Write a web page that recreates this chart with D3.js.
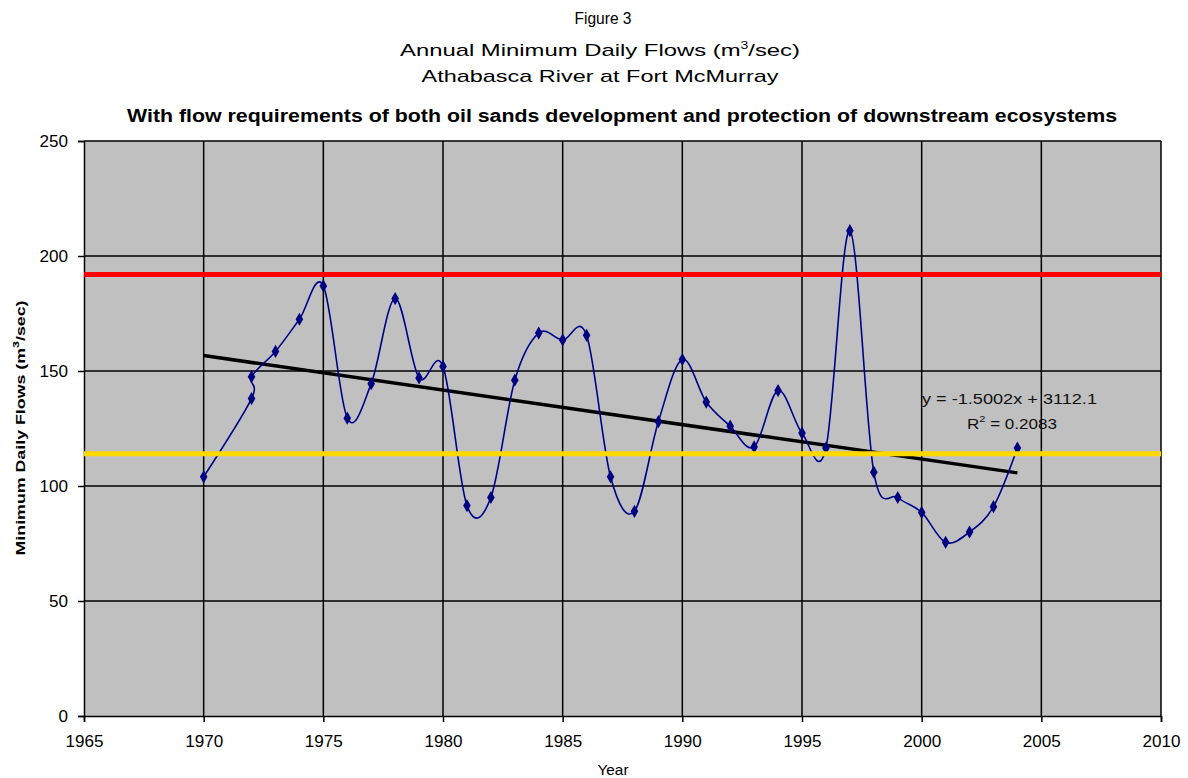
<!DOCTYPE html>
<html>
<head>
<meta charset="utf-8">
<script src="https://cdn.jsdelivr.net/npm/d3@7"></script>
<style>
  body { margin: 0; background: #fff; }
  svg { display: block; font-family: "Liberation Sans", Arial, sans-serif; }
</style>
</head>
<body>
<svg id="chart" width="1188" height="778"></svg>
<script>
// Annual minimum daily flows, Athabasca River at Fort McMurray (m³/sec)
const years = [1970, 1972, 1972, 1973, 1974, 1975, 1976, 1977, 1978, 1979,
               1980, 1981, 1982, 1983, 1984, 1985, 1986, 1987, 1988, 1989,
               1990, 1991, 1992, 1993, 1994, 1995, 1996, 1997, 1998, 1999,
               2000, 2001, 2002, 2003, 2004];
const flows = [104, 138, 147.5, 158.5, 172.5, 187, 129.5, 144.5, 181.5, 147,
               152, 91.5, 95, 146, 166.5, 163.5, 165.5, 104, 89, 128,
               155, 136.5, 126, 117, 141.5, 123, 116.5, 211, 106, 95,
               88.5, 75.5, 80, 91, 116.5];

// Flow requirement levels
const oilSandsRequirement = 192;   // red line
const ecosystemRequirement = 114;  // yellow line

// Linear trend  y = -1.5002x + 3112.1
const trendSlope = -1.5002;
const trendIntercept = 3112.1;
const trendYears = [1970, 2004];

const xTicks = [1965, 1970, 1975, 1980, 1985, 1990, 1995, 2000, 2005, 2010];
const yTicks = [0, 50, 100, 150, 200, 250];

const svg = d3.select("#chart");
const plot = { left: 84, right: 1161, top: 141, bottom: 716 };

const x = d3.scaleLinear().domain([1965, 2010]).range([plot.left, plot.right]);
const y = d3.scaleLinear().domain([0, 250]).range([plot.bottom, plot.top]);

// Titles
const titles = svg.append("g").attr("fill", "#000");
titles.append("text").attr("x", 603).attr("y", 24).attr("text-anchor", "middle")
  .attr("font-size", 17).attr("textLength", 57).attr("lengthAdjust", "spacingAndGlyphs")
  .text("Figure 3");
const t2 = titles.append("text").attr("x", 600).attr("y", 56).attr("text-anchor", "middle")
  .attr("font-size", 17).attr("textLength", 400).attr("lengthAdjust", "spacingAndGlyphs");
t2.append("tspan").text("Annual Minimum Daily Flows (m");
t2.append("tspan").attr("dy", -7).attr("font-size", 10).text("3");
t2.append("tspan").attr("dy", 7).text("/sec)");
titles.append("text").attr("x", 600).attr("y", 82).attr("text-anchor", "middle")
  .attr("font-size", 17).attr("textLength", 357).attr("lengthAdjust", "spacingAndGlyphs")
  .text("Athabasca River at Fort McMurray");
titles.append("text").attr("x", 622).attr("y", 122).attr("text-anchor", "middle")
  .attr("font-size", 18).attr("font-weight", "bold")
  .attr("textLength", 990).attr("lengthAdjust", "spacingAndGlyphs")
  .text("With flow requirements of both oil sands development and protection of downstream ecosystems");

// Plot area
svg.append("rect")
  .attr("x", plot.left).attr("y", plot.top)
  .attr("width", plot.right - plot.left).attr("height", plot.bottom - plot.top)
  .attr("fill", "#c0c0c0");

// Trend equation labels (grid lines pass over them)
const eq = svg.append("g").attr("fill", "#111").attr("font-size", 14);
eq.append("text").attr("x", 922).attr("y", 404)
  .attr("textLength", 175).attr("lengthAdjust", "spacingAndGlyphs")
  .text("y = -1.5002x + 3112.1");
const r2 = eq.append("text").attr("x", 967).attr("y", 429)
  .attr("textLength", 90).attr("lengthAdjust", "spacingAndGlyphs");
r2.append("tspan").text("R");
r2.append("tspan").attr("dy", -7).attr("font-size", 9).text("2");
r2.append("tspan").attr("dy", 7).text(" = 0.2083");

// Grid lines
const grid = svg.append("g").attr("stroke", "#000").attr("stroke-width", 1.5);
grid.selectAll(".gx").data(xTicks.slice(1)).join("line")
  .attr("x1", d => x(d)).attr("x2", d => x(d))
  .attr("y1", plot.top).attr("y2", plot.bottom);
grid.selectAll(".gy").data(yTicks.slice(1)).join("line")
  .attr("x1", plot.left).attr("x2", plot.right)
  .attr("y1", d => y(d)).attr("y2", d => y(d));

// Axes
const xAxis = svg.append("g").attr("transform", `translate(0,${plot.bottom})`)
  .call(d3.axisBottom(x).tickValues(xTicks).tickFormat(d3.format("d")).tickSize(6).tickPadding(14));
const yAxis = svg.append("g").attr("transform", `translate(${plot.left},0)`)
  .call(d3.axisLeft(y).tickValues(yTicks).tickSize(6).tickPadding(10));
[xAxis, yAxis].forEach(a => {
  a.select(".domain").attr("stroke", "#000").attr("stroke-width", 1.5);
  a.selectAll(".tick line").attr("stroke", "#000").attr("stroke-width", 1.5);
  a.selectAll(".tick text").attr("fill", "#000").attr("font-size", 16)
    .attr("font-family", "Liberation Sans, Arial, sans-serif");
});
xAxis.selectAll(".tick text").attr("textLength", 38).attr("lengthAdjust", "spacingAndGlyphs");
yAxis.selectAll(".tick text").each(function () {
  const n = this.textContent.length;
  d3.select(this).attr("textLength", n * 9.5).attr("lengthAdjust", "spacingAndGlyphs");
});

// Axis titles
svg.append("text").attr("x", 613).attr("y", 775).attr("text-anchor", "middle")
  .attr("font-size", 15).attr("textLength", 31).attr("lengthAdjust", "spacingAndGlyphs")
  .text("Year");
const yt = svg.append("text")
  .attr("transform", "translate(25,428) rotate(-90)")
  .attr("text-anchor", "middle").attr("font-size", 13).attr("font-weight", "bold")
  .attr("textLength", 255).attr("lengthAdjust", "spacingAndGlyphs");
yt.append("tspan").text("Minimum Daily Flows (m");
yt.append("tspan").attr("dy", -6).attr("font-size", 9).text("3");
yt.append("tspan").attr("dy", 6).text("/sec)");

// Trend line
svg.append("line")
  .attr("x1", x(trendYears[0])).attr("y1", y(trendSlope * trendYears[0] + trendIntercept))
  .attr("x2", x(trendYears[1])).attr("y2", y(trendSlope * trendYears[1] + trendIntercept))
  .attr("stroke", "#000").attr("stroke-width", 3.5);

// Flow series, smoothed
const pts = years.map((yr, i) => [yr, flows[i]]);
svg.append("path")
  .datum(pts)
  .attr("fill", "none").attr("stroke", "#00008b").attr("stroke-width", 1.6)
  .attr("d", d3.line().x(d => x(d[0])).y(d => y(d[1])).curve(d3.curveCardinal.tension(0)));
svg.append("g").selectAll("path").data(pts).join("path")
  .attr("transform", d => `translate(${x(d[0])},${y(d[1])})`)
  .attr("d", d3.symbol(d3.symbolDiamond, 50))
  .attr("fill", "#000080");

// Requirement lines
svg.append("line")
  .attr("x1", plot.left).attr("x2", plot.right)
  .attr("y1", y(oilSandsRequirement)).attr("y2", y(oilSandsRequirement))
  .attr("stroke", "#ff0000").attr("stroke-width", 5);
svg.append("line")
  .attr("x1", plot.left).attr("x2", plot.right)
  .attr("y1", y(ecosystemRequirement)).attr("y2", y(ecosystemRequirement))
  .attr("stroke", "#ffd800").attr("stroke-width", 5);
</script>
</body>
</html>
